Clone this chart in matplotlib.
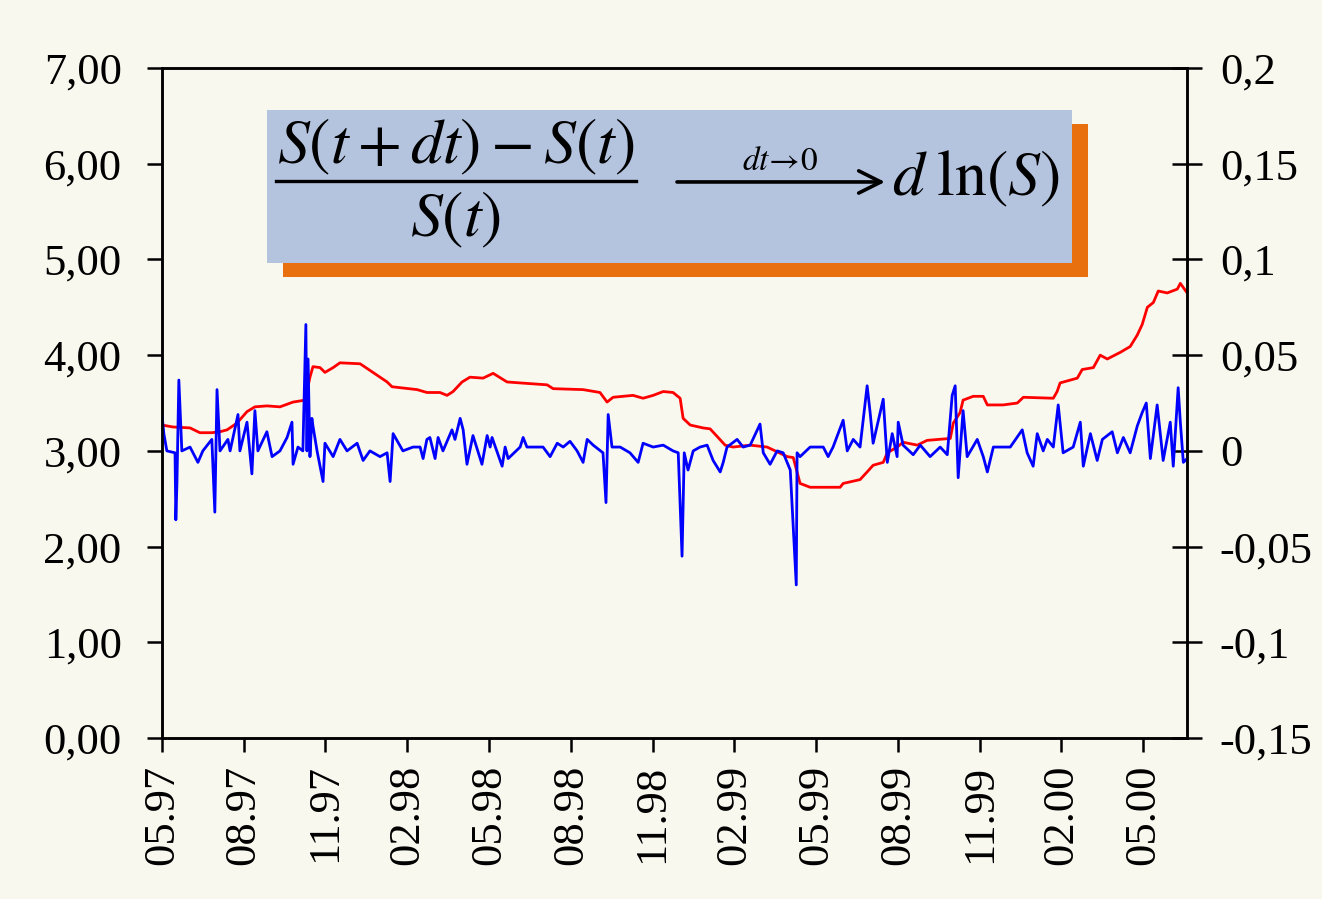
import matplotlib
matplotlib.use('Agg')
import matplotlib.pyplot as plt
from matplotlib.patches import Rectangle, FancyArrowPatch
from matplotlib.lines import Line2D

plt.rcParams['font.family'] = ['Liberation Serif', 'DejaVu Serif']
plt.rcParams['mathtext.fontset'] = 'stix'

# temps en mois depuis 05.97
cours_t = [0, 0.40, 1.03, 1.39, 1.83, 2.13, 2.39, 2.75, 3.12, 3.41, 3.85, 4.33, 4.81, 5.25, 5.43, 5.54,
           5.80, 5.98, 6.28, 6.53, 7.27, 7.74, 8.26, 8.44, 9.36, 9.72, 10.20, 10.46, 10.68, 11.01, 11.30,
           11.78, 12.15, 12.66, 13.14, 14.13, 14.35, 15.45, 16.07, 16.33, 16.55, 17.28, 17.65, 18.02,
           18.39, 18.75, 19.01, 19.12, 19.38, 19.85, 20.11, 20.37, 20.66, 20.95, 21.58, 22.20, 22.57,
           22.94, 23.16, 23.41, 23.78, 24.88, 24.99, 25.61, 25.87, 26.09, 26.46, 26.61, 26.97, 27.19,
           27.71, 28.07, 28.92, 29.03, 29.28, 29.39, 29.76, 30.13, 30.28, 30.86, 31.38, 31.60, 32.70,
           32.84, 32.95, 33.58, 33.76, 34.17, 34.42, 34.68, 35.16, 35.52, 35.78, 35.96, 36.15, 36.37,
           36.55, 36.88, 37.25, 37.36, 37.61]
cours = [3.27, 3.25, 3.24, 3.19, 3.19, 3.20, 3.22, 3.29, 3.41, 3.46, 3.47, 3.46, 3.51, 3.53, 3.77, 3.88,
         3.87, 3.82, 3.87, 3.92, 3.91, 3.82, 3.72, 3.67, 3.64, 3.61, 3.61, 3.58, 3.62, 3.72, 3.77,
         3.76, 3.81, 3.72, 3.71, 3.69, 3.65, 3.64, 3.61, 3.51, 3.56, 3.58, 3.55, 3.58,
         3.62, 3.61, 3.55, 3.34, 3.27, 3.24, 3.23, 3.15, 3.06, 3.04, 3.06, 3.04, 2.99,
         2.94, 2.93, 2.66, 2.62, 2.62, 2.66, 2.70, 2.78, 2.85, 2.88, 2.98, 3.04, 3.09,
         3.06, 3.11, 3.13, 3.29, 3.40, 3.53, 3.57, 3.57, 3.48, 3.48, 3.50, 3.56, 3.55,
         3.62, 3.71, 3.76, 3.85, 3.87, 4.00, 3.96, 4.03, 4.09, 4.21, 4.32, 4.50, 4.55,
         4.67, 4.65, 4.69, 4.75, 4.65]

rend_t = [0.00, 0.07, 0.18, 0.48, 0.51, 0.55, 0.62, 0.73, 1.03, 1.32, 1.50, 1.83, 1.94, 2.02, 2.13, 2.42,
          2.50, 2.79, 2.86, 3.12, 3.30, 3.41, 3.52, 3.85, 4.04, 4.33, 4.59, 4.77, 4.81, 4.99, 5.17, 5.28,
          5.32, 5.36, 5.43, 5.50, 5.54, 5.69, 5.91, 5.98, 6.28, 6.53, 6.79, 7.16, 7.38, 7.63, 8.00, 8.26,
          8.37, 8.48, 8.84, 9.21, 9.47, 9.58, 9.72, 9.83, 10.02, 10.13, 10.31, 10.64, 10.75, 10.94, 11.05,
          11.19, 11.41, 11.74, 11.93, 12.04, 12.11, 12.48, 12.59, 12.70, 13.14, 13.25, 13.39, 13.98, 14.24,
          14.50, 14.72, 14.97, 15.23, 15.45, 15.60, 15.82, 16.18, 16.29, 16.37, 16.51, 16.81, 17.17, 17.47,
          17.65, 18.02, 18.39, 18.75, 18.94, 19.08, 19.16, 19.30, 19.49, 19.74, 20.00, 20.22, 20.48, 20.59,
          20.73, 21.10, 21.32, 21.58, 21.94, 22.06, 22.31, 22.57, 22.79, 23.05, 23.27, 23.30, 23.41, 23.78,
          24.26, 24.44, 24.62, 24.99, 25.14, 25.36, 25.61, 25.87, 25.98, 26.09, 26.46, 26.61, 26.79, 26.97,
          27.01, 27.19, 27.56, 27.82, 28.18, 28.55, 28.81, 28.99, 29.10, 29.21, 29.39, 29.54, 29.91, 30.13,
          30.28, 30.50, 30.75, 31.12, 31.56, 31.74, 31.96, 32.11, 32.33, 32.48, 32.70, 32.88, 33.06, 33.43,
          33.69, 33.80, 34.06, 34.31, 34.50, 34.86, 35.05, 35.27, 35.52, 35.78, 35.96, 36.11, 36.26, 36.51,
          36.73, 36.99, 37.10, 37.28, 37.36, 37.47, 37.61]
rendement = [0.019, 0.009, 0.000, -0.001, -0.036, -0.017, 0.037, 0.000, 0.002, -0.006, 0.000, 0.006, -0.032,
             0.032, 0.000, 0.006, 0.000, 0.019, 0.000, 0.015, -0.012, 0.021, 0.000, 0.010, -0.003, 0.000,
             0.007, 0.015, -0.007, 0.002, 0.000, 0.066, 0.000, 0.048, -0.003, 0.017, 0.013, 0.000, -0.016,
             0.004, -0.003, 0.006, 0.000, 0.004, -0.005, 0.000, -0.003, -0.001, -0.016, 0.009, 0.000, 0.002,
             0.002, -0.004, 0.006, 0.007, -0.004, 0.007, 0.000, 0.011, 0.006, 0.017, 0.011, -0.007, 0.008,
             -0.007, 0.008, 0.002, 0.007, -0.008, 0.002, -0.004, 0.002, 0.007, 0.002, 0.002, -0.003, 0.004,
             0.002, 0.005, 0.000, -0.006, 0.006, 0.003, -0.001, -0.027, 0.019, 0.002, 0.002, -0.001, -0.006,
             0.004, 0.002, 0.003, 0.000, -0.001, -0.055, -0.001, -0.010, 0.000, 0.002, 0.003, -0.005, -0.011,
             -0.006, 0.002, 0.006, 0.002, 0.003, 0.014, -0.001, -0.007, 0.000, -0.001, -0.010, -0.070, -0.001,
             -0.003, 0.002, 0.002, -0.003, 0.002, 0.016, 0.000, 0.006, 0.002, 0.034, 0.020, 0.004, 0.027,
             -0.006, 0.009, -0.003, 0.015, 0.003, -0.002, 0.003, -0.003, 0.002, -0.002, 0.029, 0.034, -0.014,
             0.021, -0.003, 0.006, -0.003, -0.011, 0.002, 0.002, 0.002, 0.011, -0.001, -0.008, 0.009, 0.000,
             0.006, 0.002, 0.024, -0.001, 0.002, 0.015, -0.008, 0.009, -0.005, 0.006, 0.010, -0.001, 0.007,
             -0.001, 0.013, 0.020, 0.025, -0.004, 0.024, -0.005, 0.015, -0.008, 0.033, 0.015, -0.006, -0.004]

mois_ticks = [0, 3, 6, 9, 12, 15, 18, 21, 24, 27, 30, 33, 36]
mois_labels = ['05.97', '08.97', '11.97', '02.98', '05.98', '08.98', '11.98',
               '02.99', '05.99', '08.99', '11.99', '02.00', '05.00']
gauche_ticks = [0, 1, 2, 3, 4, 5, 6, 7]
gauche_labels = ['0,00', '1,00', '2,00', '3,00', '4,00', '5,00', '6,00', '7,00']
droite_ticks = [-0.15, -0.1, -0.05, 0, 0.05, 0.1, 0.15, 0.2]
droite_labels = ['-0,15', '-0,1', '-0,05', '0', '0,05', '0,1', '0,15', '0,2']

fond = '#F9F8EF'
fig = plt.figure(figsize=(13.22, 8.99), dpi=100, facecolor=fond)
ax = fig.add_axes([0.1225, 0.179, 0.7755, 0.7454])
ax.set_facecolor(fond)
ax2 = ax.twinx()

ax.plot(cours_t, cours, color='#FF0000', lw=2.0)
ax2.plot(rend_t, rendement, color='#0000FF', lw=2.0)

ax.set_xlim(0, 37.61)
ax.set_ylim(0, 7)
ax2.set_ylim(-0.15, 0.2)

ax.set_xticks(mois_ticks)
ax.set_xticklabels(mois_labels, rotation=90)
ax.set_yticks(gauche_ticks)
ax.set_yticklabels(gauche_labels)
ax2.set_yticks(droite_ticks)
ax2.set_yticklabels(droite_labels)

ax.tick_params(axis='y', direction='out', length=11, width=1.8, pad=18, labelsize=32)
ax.tick_params(axis='x', direction='out', length=10, width=1.8, pad=9, labelsize=32)
ax2.tick_params(axis='y', direction='inout', length=21, width=1.8, pad=13, labelsize=32)
for a in (ax, ax2):
    for s in a.spines.values():
        s.set_linewidth(1.8)

# cadre avec la formule
fig.add_artist(Rectangle((0.2141, 0.6919), 0.6089, 0.1702, transform=fig.transFigure,
                         facecolor='#E8700F', edgecolor='none', zorder=5))
fig.add_artist(Rectangle((0.2020, 0.7075), 0.6089, 0.1702, transform=fig.transFigure,
                         facecolor='#B4C3DE', edgecolor='none', zorder=6))

fig.text(0.345, 0.8365, r'$S(t+dt)-S(t)$', fontsize=46, ha='center', va='center', zorder=7)
fig.text(0.345, 0.7553, r'$S(t)$', fontsize=46, ha='center', va='center', zorder=7)
fig.add_artist(Line2D([0.2088, 0.4811], [0.7987, 0.7987], transform=fig.transFigure,
                      color='black', lw=2.4, zorder=7))
fig.add_artist(FancyArrowPatch((0.5121, 0.7976), (0.6694, 0.7976), transform=fig.transFigure,
                               arrowstyle='->', mutation_scale=40, lw=2.6, color='black',
                               shrinkA=0, shrinkB=0, zorder=7))
fig.text(0.590, 0.820, r'$dt\!\rightarrow\!0$', fontsize=24, ha='center', va='center', zorder=7)
fig.text(0.6747, 0.800, r'$d\;\mathrm{ln}(S)$', fontsize=46, ha='left', va='center', zorder=7)

fig.savefig('out.png', dpi=100, facecolor=fond)
